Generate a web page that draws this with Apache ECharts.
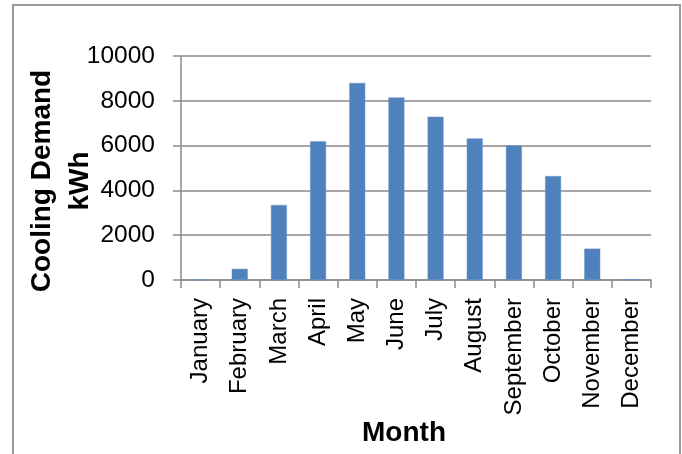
<!DOCTYPE html>
<html>
<head>
<meta charset="utf-8">
<script src="https://cdn.jsdelivr.net/npm/echarts@6/dist/echarts.min.js"></script>
<style>
  html, body { margin: 0; padding: 0; background: #fff; }
  #chart { width: 682px; height: 454px; }
</style>
</head>
<body>
<div id="chart"></div>
<script>
// Monthly cooling demand (kWh)
const months = ['January', 'February', 'March', 'April', 'May', 'June',
                'July', 'August', 'September', 'October', 'November', 'December'];
const coolingDemand = [10, 500, 3350, 6190, 8800, 8150, 7290, 6320, 6010, 4640, 1400, 40];
const yTicks = { min: 0, max: 10000, interval: 2000 };

const FONT = '"Liberation Sans", Arial, sans-serif';
const GRID_COLOR = '#8a8a8a';

const chart = echarts.init(document.getElementById('chart'), null, { renderer: 'canvas' });

chart.setOption({
  animation: false,
  backgroundColor: '#ffffff',
  grid: { left: 181, right: 31, top: 56, bottom: 174, containLabel: false },
  xAxis: {
    type: 'category',
    data: months,
    axisLine: { lineStyle: { color: GRID_COLOR, width: 1.5 } },
    axisTick: { show: true, inside: false, length: 8, alignWithLabel: false,
                lineStyle: { color: GRID_COLOR, width: 1.5 } },
    axisLabel: { interval: 0, rotate: 90, margin: 18, color: '#000',
                 fontFamily: FONT, fontSize: 24 }
  },
  yAxis: {
    type: 'value',
    min: yTicks.min, max: yTicks.max, interval: yTicks.interval,
    axisLine: { show: true, lineStyle: { color: GRID_COLOR, width: 1.5 } },
    axisTick: { show: true, inside: false, length: 8,
                lineStyle: { color: GRID_COLOR, width: 1.5 } },
    splitLine: { show: true, lineStyle: { color: GRID_COLOR, width: 1.5 } },
    axisLabel: { margin: 26, color: '#000', fontFamily: FONT, fontSize: 24.5,
                 formatter: v => String(v) }
  },
  series: [{
    type: 'bar',
    data: coolingDemand,
    barWidth: 16,
    itemStyle: { color: '#4f81bd', borderColor: '#6f97c9', borderWidth: 0.5 }
  }],
  graphic: [
    {
      // outer chart frame
      type: 'rect',
      shape: { x: 13, y: 5, width: 667, height: 470 },
      style: { fill: 'none', stroke: '#9a9a9a', lineWidth: 2 },
      silent: true
    },
    {
      type: 'text',
      x: 61, y: 181,
      rotation: Math.PI / 2,
      style: {
        text: 'Cooling Demand\nkWh',
        fontFamily: FONT, fontSize: 28, fontWeight: 'bold',
        fill: '#000', align: 'center', verticalAlign: 'middle', lineHeight: 38
      }
    },
    {
      type: 'text',
      x: 404, y: 433,
      style: {
        text: 'Month',
        fontFamily: FONT, fontSize: 28, fontWeight: 'bold',
        fill: '#000', align: 'center', verticalAlign: 'middle'
      }
    }
  ]
});
</script>
</body>
</html>
